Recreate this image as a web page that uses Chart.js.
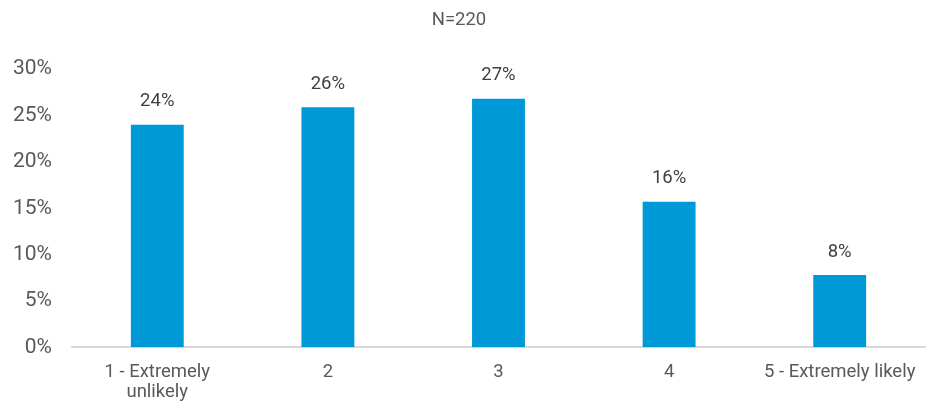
<!DOCTYPE html>
<html>
<head>
<meta charset="utf-8">
<script src="https://cdn.jsdelivr.net/npm/chart.js@4"></script>
<style>
  html, body { margin: 0; padding: 0; background: #fff; }
  #wrap { width: 933px; height: 405px; position: relative; }
</style>
</head>
<body>
<div id="wrap"><canvas id="myChart"></canvas></div>
<script>
var categories = [["1 - Extremely", "unlikely"], "2", "3", "4", "5 - Extremely likely"];
var shares = [24.0, 25.9, 26.8, 15.7, 7.8];
var yTicks = [0, 5, 10, 15, 20, 25, 30];

// draws the percentage above each bar
var barLabels = {
    id: "barLabels",
    afterDatasetsDraw: function(chart) {
        var ctx = chart.ctx;
        var meta = chart.getDatasetMeta(0);
        ctx.save();
        ctx.font = "18.5px Roboto";
        ctx.fillStyle = "#404040";
        ctx.textAlign = "center";
        ctx.textBaseline = "middle";
        meta.data.forEach(function(bar, i) {
            ctx.fillText(Math.round(shares[i]) + "%", bar.x, bar.y - 23);
        });
        ctx.restore();
    }
};

var ctx = document.getElementById("myChart").getContext("2d");
var myChart = new Chart(ctx, {
    type: "bar",
    data: {
        labels: categories,
        datasets: [{
            data: shares,
            backgroundColor: "#0099d8",
            categoryPercentage: 1,
            barPercentage: 0.31
        }]
    },
    options: {
        responsive: true,
        maintainAspectRatio: false,
        animation: false,
        layout: { padding: { left: -7, right: 8, top: 0, bottom: -13 } },
        plugins: {
            legend: { display: false },
            tooltip: { enabled: false },
            title: {
                display: true,
                text: "N=220",
                color: "#595959",
                font: { family: "Roboto", size: 18.5, weight: "normal" },
                padding: { top: 9, bottom: 38 }
            }
        },
        scales: {
            x: {
                grid: { display: false, drawTicks: false },
                border: { display: true, color: "#d9d9d9", width: 2 },
                ticks: {
                    color: "#595959",
                    font: { family: "Roboto", size: 18.5, lineHeight: 1.1 },
                    maxRotation: 0,
                    padding: 15
                }
            },
            y: {
                min: 0,
                max: 30,
                afterBuildTicks: function(axis) {
                    axis.ticks = yTicks.map(function(v) { return { value: v }; });
                },
                grid: { display: false, drawTicks: false },
                border: { display: false },
                ticks: {
                    color: "#595959",
                    font: { family: "Roboto", size: 21 },
                    padding: 20,
                    callback: function(v) { return v + "%"; }
                }
            }
        }
    },
    plugins: [barLabels]
});
</script>
</body>
</html>
